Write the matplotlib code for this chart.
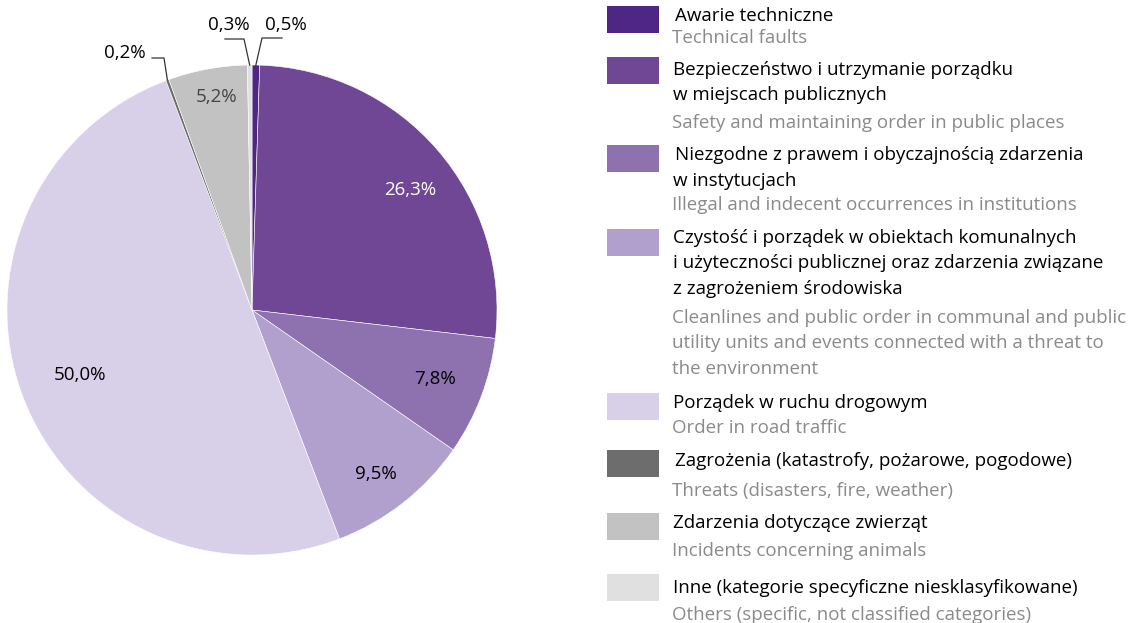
import numpy as np
import matplotlib
matplotlib.use("Agg")
import matplotlib.pyplot as plt
from matplotlib.patches import Rectangle

plt.rcParams["font.family"] = ["Open Sans", "DejaVu Sans"]

# data
labels_pl = [
    "Awarie techniczne",
    "Bezpieczeństwo i utrzymanie porządku\nw miejscach publicznych",
    "Niezgodne z prawem i obyczajnością zdarzenia\nw instytucjach",
    "Czystość i porządek w obiektach komunalnych\ni użyteczności publicznej oraz zdarzenia związane\nz zagrożeniem środowiska",
    "Porządek w ruchu drogowym",
    "Zagrożenia (katastrofy, pożarowe, pogodowe)",
    "Zdarzenia dotyczące zwierząt",
    "Inne (kategorie specyficzne niesklasyfikowane)",
]
labels_en = [
    "Technical faults",
    "Safety and maintaining order in public places",
    "Illegal and indecent occurrences in institutions",
    "Cleanlines and public order in communal and public\nutility units and events connected with a threat to\nthe environment",
    "Order in road traffic",
    "Threats (disasters, fire, weather)",
    "Incidents concerning animals",
    "Others (specific, not classified categories)",
]
shares = [0.5, 26.3, 7.8, 9.5, 50.0, 0.2, 5.2, 0.3]
colors = ["#4f2683", "#6f4795", "#8e72b0", "#b19fcd",
          "#d8cfe8", "#6d6d6d", "#c2c2c2", "#e0e0e0"]

# layout (pixel coords, y from top)
W, H = 1138, 623
cx, cy, R = 252, 310, 245
swatch_top = [6, 57, 145, 229, 393, 450, 513, 574]
pl_base = [21, 75, 160, 243, 408, 466, 528, 593]
en_base = [43, 128, 210, 323, 433, 496, 556, 620]
pl_x = [675, 673, 675, 673, 673, 675, 673, 673]
pitch = 25.5
# inner labels: radius fraction, angle shift (deg, clockwise), colour
inner = {
    1: (0.81, 3.5, "white"),
    2: (0.80, 0.0, "black"),
    3: (0.84, 1.0, "black"),
    4: (0.75, 0.0, "black"),
    6: (0.88, 1.0, "#444444"),
}
# tiny slices: (text x, text y, elbow x, line end x, line y)
outer = {
    0: (286, 25, 262, 282, 38),
    7: (229, 25, 244, 225, 39),
    5: (125, 53, 164, 152, 58),
}


def fmt(v):
    return f"{v:.1f}".replace(".", ",") + "%"


fig = plt.figure(figsize=(W / 100, H / 100), dpi=100)
ax = fig.add_axes([0, 0, 1, 1])

wedges, _ = ax.pie(shares, colors=colors, startangle=90, counterclock=False,
                   center=(cx, H - cy), radius=R,
                   wedgeprops=dict(edgecolor="white", linewidth=0.4))
ax.set_xlim(0, W)
ax.set_ylim(0, H)
ax.set_aspect("equal")
ax.axis("off")

for i, w in enumerate(wedges):
    mid = (w.theta1 + w.theta2) / 2
    if i in inner:
        frac, shift, col = inner[i]
        a = np.deg2rad(mid - shift)
        r = R * frac
        ax.text(cx + r * np.cos(a), H - cy + r * np.sin(a), fmt(shares[i]),
                ha="center", va="center", fontsize=13.5, color=col)
    elif i in outer:
        a = np.deg2rad(mid)
        tx, ty, ex, lx, ly = outer[i]
        px, py = cx + R * np.cos(a), H - cy + R * np.sin(a)
        ax.plot([px, ex, lx], [py, H - ly, H - ly], color="#333333", lw=0.9)
        ax.text(tx, H - ty, fmt(shares[i]), ha="center", va="center",
                fontsize=13.5, color="black")

# legend
for i, top in enumerate(swatch_top):
    ax.add_patch(Rectangle((607, H - top - 27), 52, 27, color=colors[i],
                           lw=0))
    for k, line in enumerate(labels_pl[i].split("\n")):
        ax.text(pl_x[i] if k == 0 else 673, H - pl_base[i] - k * pitch, line,
                ha="left", va="baseline", fontsize=13.5, color="black")
    for k, line in enumerate(labels_en[i].split("\n")):
        ax.text(672, H - en_base[i] - k * pitch, line, ha="left",
                va="baseline", fontsize=13.5, color="#8a8a8a")

fig.savefig("out.png", dpi=100)
